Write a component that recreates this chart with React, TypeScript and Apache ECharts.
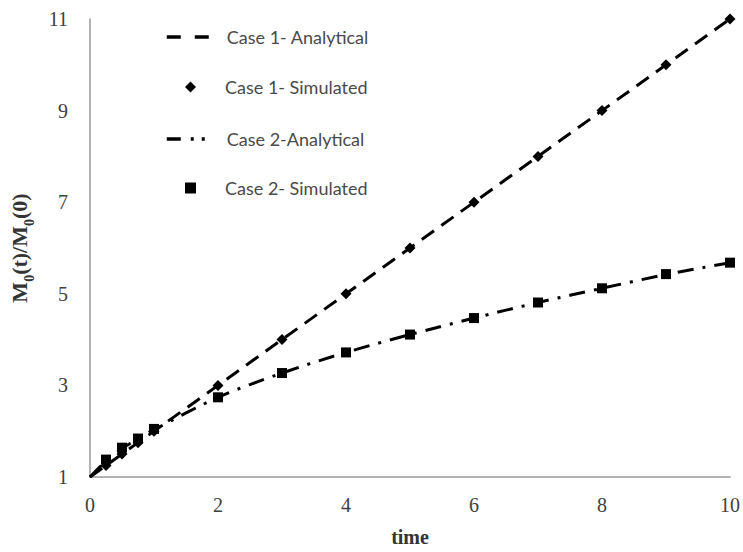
import React, { useEffect, useRef } from "react";
import * as echarts from "echarts";

const timeLine = [0, 0.25, 0.5, 0.75, 1, 2, 3, 4, 5, 6, 7, 8, 9, 10];
const case1Analytical = [1, 1.25, 1.5, 1.75, 2, 3, 4, 5, 6, 7, 8, 9, 10, 11];
const case2Analytical = [1, 1.35, 1.62, 1.83, 2.03, 2.74, 3.27, 3.72, 4.11, 4.47, 4.81, 5.12, 5.42, 5.68];
const timeSim = [0.25, 0.5, 0.75, 1, 2, 3, 4, 5, 6, 7, 8, 9, 10];
const case1Simulated = [1.25, 1.5, 1.75, 2, 3, 4, 5, 6, 7, 8, 9, 10, 11];
const case2Simulated = [1.38, 1.64, 1.84, 2.05, 2.74, 3.27, 3.72, 4.11, 4.47, 4.81, 5.12, 5.43, 5.68];
const yTicks = [1, 3, 5, 7, 9, 11];
const xTicks = [0, 2, 4, 6, 8, 10];

const pair = (xs: number[], ys: number[]) => xs.map((x, i) => [x, ys[i]]);

export default function App() {
  const ref = useRef<HTMLDivElement>(null);
  useEffect(() => {
    const chart = echarts.init(ref.current!, null, { renderer: "svg" });
    const serif = "Liberation Serif";
    const tickColor = "#404040";
    const legendText = { fontFamily: "Lato", fontSize: 18, color: "#4a4a4a" };
    chart.setOption({
      animation: false,
      backgroundColor: "#fff",
      grid: { left: 89, right: 13, top: 19, bottom: 74 },
      legend: [
        {
          orient: "vertical",
          left: 160,
          top: 23,
          itemGap: 84,
          itemWidth: 45,
          itemHeight: 16,
          textStyle: { ...legendText, padding: [0, 0, 0, 10] },
          data: [
            {
              name: "Case 1- Analytical",
              itemStyle: { opacity: 0 },
              lineStyle: { width: 3.5, type: [14, 14], color: "#000" },
            },
            {
              name: "Case 2-Analytical",
              itemStyle: { opacity: 0 },
              lineStyle: { width: 3.5, type: [14, 10, 3, 8, 3, 60], color: "#000" },
            },
          ],
        },
        {
          orient: "vertical",
          left: 180,
          top: 73,
          itemGap: 83,
          itemWidth: 11,
          itemHeight: 11,
          textStyle: { ...legendText, padding: [0, 0, 0, 24] },
          data: [
            { name: "Case 1- Simulated", icon: "diamond" },
            { name: "Case 2- Simulated", icon: "rect" },
          ],
        },
      ],
      xAxis: {
        type: "value",
        min: 0,
        max: 10,
        interval: 2,
        name: "time",
        nameLocation: "middle",
        nameGap: 50,
        nameTextStyle: { fontFamily: serif, fontWeight: "bold", fontSize: 20, color: "#333" },
        axisLine: { lineStyle: { color: "#999", width: 1.5 } },
        axisTick: { show: false },
        splitLine: { show: false },
        axisLabel: {
          customValues: xTicks,
          margin: 18,
          fontFamily: serif,
          fontSize: 20,
          color: tickColor,
        },
      },
      yAxis: {
        type: "value",
        min: 1,
        max: 11,
        name: "{a|M}{s|0}{a|(t)/M}{s|0}{a|(0)}",
        nameLocation: "middle",
        nameGap: 60,
        nameRotate: 90,
        nameTextStyle: {
          rich: {
            a: { fontFamily: serif, fontWeight: "bold", fontSize: 22, color: "#333", lineHeight: 26, verticalAlign: "bottom" },
            s: { fontFamily: serif, fontWeight: "bold", fontSize: 14, color: "#333", lineHeight: 26, verticalAlign: "bottom", padding: [0, 0, -6, 0] },
          },
        },
        axisLine: { show: true, lineStyle: { color: "#999", width: 1.5 } },
        axisTick: { show: false },
        splitLine: { show: false },
        axisLabel: {
          customValues: yTicks,
          margin: 22,
          fontFamily: serif,
          fontSize: 20,
          color: tickColor,
        },
      },
      series: [
        {
          name: "Case 1- Analytical",
          type: "line",
          data: pair(timeLine, case1Analytical),
          symbol: "none",
          lineStyle: { color: "#000", width: 3, type: [15, 9] },
          itemStyle: { color: "#000" },
          z: 2,
        },
        {
          name: "Case 1- Simulated",
          type: "scatter",
          data: pair(timeSim, case1Simulated),
          symbol: "diamond",
          symbolSize: 11,
          itemStyle: { color: "#000", opacity: 1 },
          z: 3,
        },
        {
          name: "Case 2-Analytical",
          type: "line",
          data: pair(timeLine, case2Analytical),
          symbol: "none",
          smooth: 0.3,
          lineStyle: { color: "#000", width: 3, type: [16, 9, 3, 9] },
          itemStyle: { color: "#000" },
          z: 2,
        },
        {
          name: "Case 2- Simulated",
          type: "scatter",
          data: pair(timeSim, case2Simulated),
          symbol: "rect",
          symbolSize: 10,
          itemStyle: { color: "#000", opacity: 1 },
          z: 3,
        },
      ],
    });
    return () => chart.dispose();
  }, []);
  return <div ref={ref} style={{ position: "fixed", left: 0, top: 0, width: 743, height: 552 }} />;
}
